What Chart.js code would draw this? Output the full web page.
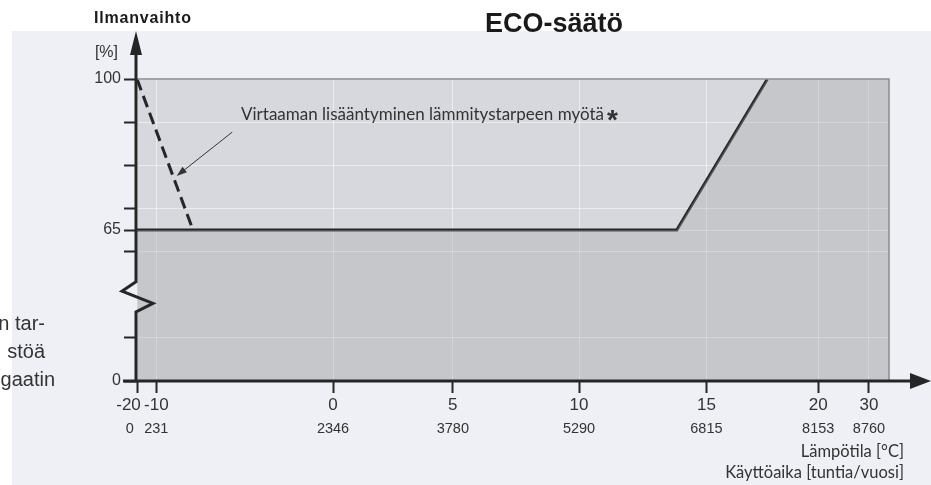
<!DOCTYPE html>
<html>
<head>
<meta charset="utf-8">
<style>
  html, body { margin: 0; padding: 0; background: #fff; }
  canvas { display: block; }
</style>
<script src="https://cdn.jsdelivr.net/npm/chart.js@4.4.1/dist/chart.umd.min.js"></script>
</head>
<body>
<canvas id="chart" width="931" height="485"></canvas>
<script>
// -------------------------
// Data
// -------------------------
const tickHours = [0, 231, 2346, 3780, 5290, 6815, 8153, 8760];
const tickTemps = ["-20", "-10", "0", "5", "10", "15", "20", "30"];
const hoursMax = 9000;

const yTicks = [0, 10, 60, 65, 70, 80, 90, 100];
const yLabelled = [0, 65, 100];

// ECO curve (hours/year, airflow %)
const ecoHours = [0, 6460, 7545];
const ecoFlow = [65, 65, 100];

// dashed increase with heating demand
const dashHours = [0, 670];
const dashFlow = [100, 65];

// y axis is broken between 20 and 50 %
const BREAK_LO = 20, BREAK_HI = 50;
function yv(v) { return v >= BREAK_HI ? v - (BREAK_HI - BREAK_LO) : v; }

function points(xs, ys) { return xs.map((x, i) => ({ x: x, y: yv(ys[i]) })); }

const TXT = "#333";
const LINE = "#262626";
const SANS = "'Liberation Sans', Arial, sans-serif";
const SOFT = "Lato, 'Open Sans', sans-serif";
const PAD = "\u2002\u2002"; // pushes the first, crowded label a bit to the left

// -------------------------
// Decorations
// -------------------------
function arrowHead(ctx, tx, ty, bx, by, half) {
  const ang = Math.atan2(ty - by, tx - bx);
  ctx.beginPath();
  ctx.moveTo(tx, ty);
  ctx.lineTo(bx + Math.sin(ang) * half, by - Math.cos(ang) * half);
  ctx.lineTo(bx - Math.sin(ang) * half, by + Math.cos(ang) * half);
  ctx.closePath();
  ctx.fill();
}

const decor = {
  id: "decor",
  beforeDraw(chart) {
    const { ctx, chartArea: a } = chart;
    ctx.save();
    ctx.fillStyle = "#fff";
    ctx.fillRect(0, 0, chart.width, chart.height);
    ctx.fillStyle = "#eff0f5";
    ctx.fillRect(12, 31, chart.width - 12, chart.height - 31);
    ctx.fillStyle = "#d7d8de";
    ctx.fillRect(a.left, a.top, a.right - a.left, a.bottom - a.top);
    ctx.restore();
  },
  afterDatasetsDraw(chart) {
    const { ctx, chartArea: a } = chart;
    ctx.save();
    ctx.strokeStyle = "#8a8b90";
    ctx.lineWidth = 1.5;
    ctx.beginPath();
    ctx.moveTo(a.left, a.top);
    ctx.lineTo(a.right, a.top);
    ctx.lineTo(a.right, a.bottom);
    ctx.stroke();
    ctx.restore();
  },
  afterDraw(chart) {
    const { ctx, chartArea: a } = chart;
    const xs = chart.scales.x, ys = chart.scales.y;
    const ax = a.left - 1;
    ctx.save();
    ctx.strokeStyle = LINE;
    ctx.fillStyle = LINE;
    ctx.lineWidth = 3;
    ctx.lineJoin = "miter";

    // x axis + arrow
    ctx.beginPath();
    ctx.moveTo(a.left - 14, a.bottom);
    ctx.lineTo(914, a.bottom);
    ctx.stroke();
    arrowHead(ctx, 931, a.bottom, 910, a.bottom, 8);

    // y axis with break + arrow
    ctx.beginPath();
    ctx.moveTo(ax, a.bottom);
    ctx.lineTo(ax, ys.getPixelForValue(16));
    ctx.lineTo(ax + 17, ys.getPixelForValue(18));
    ctx.lineTo(ax - 14, ys.getPixelForValue(20.8));
    ctx.lineTo(ax, ys.getPixelForValue(23));
    ctx.lineTo(ax, 52);
    ctx.stroke();
    arrowHead(ctx, ax, 31, ax, 55, 6);

    // titles
    ctx.fillStyle = "#1a1a1a";
    ctx.textBaseline = "alphabetic";
    ctx.font = "bold 27px " + SANS;
    ctx.textAlign = "center";
    ctx.fillText("ECO-säätö", 554, 32);
    ctx.font = "bold 16px " + SANS;
    ctx.textAlign = "left";
    ctx.letterSpacing = "0.8px";
    ctx.fillText("Ilmanvaihto", 94, 23);
    ctx.letterSpacing = "0px";

    ctx.fillStyle = TXT;
    ctx.font = "16px " + SANS;
    ctx.textAlign = "right";
    ctx.fillText("[%]", 118, 57);

    // axis titles
    ctx.font = "16.5px " + SOFT;
    ctx.fillText("Lämpötila [°C]", 904, 457);
    ctx.fillText("Käyttöaika [tuntia/vuosi]", 904, 478);

    // text cut off from the neighbouring figure
    ctx.font = "20px " + SANS;
    ctx.fillText("n tar-", 45, 330);
    ctx.fillText("stöä", 45, 358);
    ctx.fillText("gaatin", 55, 386);

    // annotation
    const tx = xs.getPixelForValue(1245), ty = ys.getPixelForValue(yv(90.5));
    ctx.font = "17px " + SOFT;
    ctx.textAlign = "left";
    ctx.fillText("Virtaaman lisääntyminen lämmitystarpeen myötä", tx, ty);
    const w = ctx.measureText("Virtaaman lisääntyminen lämmitystarpeen myötä").width;
    ctx.font = "bold 28px " + SANS;
    ctx.fillText("*", tx + w + 3, ty + 9);

    const x1 = xs.getPixelForValue(1140), y1 = ys.getPixelForValue(yv(87.7));
    const x2 = xs.getPixelForValue(475), y2 = ys.getPixelForValue(yv(77.5));
    ctx.strokeStyle = TXT;
    ctx.fillStyle = TXT;
    ctx.lineWidth = 1;
    ctx.beginPath();
    ctx.moveTo(x1, y1);
    ctx.lineTo(x2 + 5, y2 - 4);
    ctx.stroke();
    arrowHead(ctx, x2, y2, x2 + 8, y2 - 6.5, 3.5);
    ctx.restore();
  }
};

// -------------------------
// Chart
// -------------------------
new Chart(document.getElementById("chart"), {
  type: "line",
  data: {
    datasets: [
      {
        data: points(ecoHours.concat([hoursMax]), ecoFlow.concat([100])),
        borderWidth: 0,
        pointRadius: 0,
        fill: "origin",
        backgroundColor: "rgba(165,166,163,0.34)"
      },
      {
        data: points(ecoHours, ecoFlow),
        borderColor: LINE,
        borderWidth: 3,
        pointRadius: 0,
        fill: false
      },
      {
        data: points(dashHours, dashFlow),
        borderColor: LINE,
        borderWidth: 3,
        borderDash: [12, 6],
        pointRadius: 0,
        fill: false
      }
    ]
  },
  options: {
    responsive: false,
    animation: false,
    devicePixelRatio: 1,
    layout: { padding: { top: 79, right: 42, left: 0, bottom: 0 } },
    plugins: { legend: { display: false }, tooltip: { enabled: false } },
    scales: {
      x: {
        type: "linear",
        min: 0,
        max: hoursMax,
        weight: 0,
        afterBuildTicks: s => { s.ticks = tickHours.map(v => ({ value: v })); },
        afterFit: s => { s.height = 36; },
        border: { display: false },
        grid: { color: "rgba(255,255,255,0.5)", tickColor: LINE, tickLength: 12, tickWidth: 2 },
        ticks: {
          autoSkip: false, maxRotation: 0, padding: 2,
          color: TXT, font: { family: SANS, size: 17 },
          callback: (v, i) => i === 0 ? tickTemps[i] + PAD : tickTemps[i]
        }
      },
      x2: {
        type: "linear",
        position: "bottom",
        min: 0,
        max: hoursMax,
        weight: 1,
        afterBuildTicks: s => { s.ticks = tickHours.map(v => ({ value: v })); },
        afterFit: s => { s.height = 68; },
        border: { display: false },
        grid: { display: false, drawTicks: false },
        ticks: {
          autoSkip: false, maxRotation: 0, padding: 3,
          color: TXT, font: { family: SANS, size: 14.5 },
          callback: (v, i) => i === 0 ? String(tickHours[i]) + PAD : String(tickHours[i])
        }
      },
      y: {
        type: "linear",
        min: 0,
        max: yv(100),
        afterBuildTicks: s => { s.ticks = yTicks.map(v => ({ value: yv(v) })); },
        afterFit: s => { s.width = 137; },
        border: { display: false },
        grid: { color: "rgba(255,255,255,0.5)", tickColor: LINE, tickLength: 13, tickWidth: 2 },
        ticks: {
          padding: 3,
          color: TXT, font: { family: SANS, size: 16 },
          callback: (v, i) => yLabelled.includes(yTicks[i]) ? String(yTicks[i]) : ""
        }
      }
    }
  },
  plugins: [decor]
});
</script>
</body>
</html>
